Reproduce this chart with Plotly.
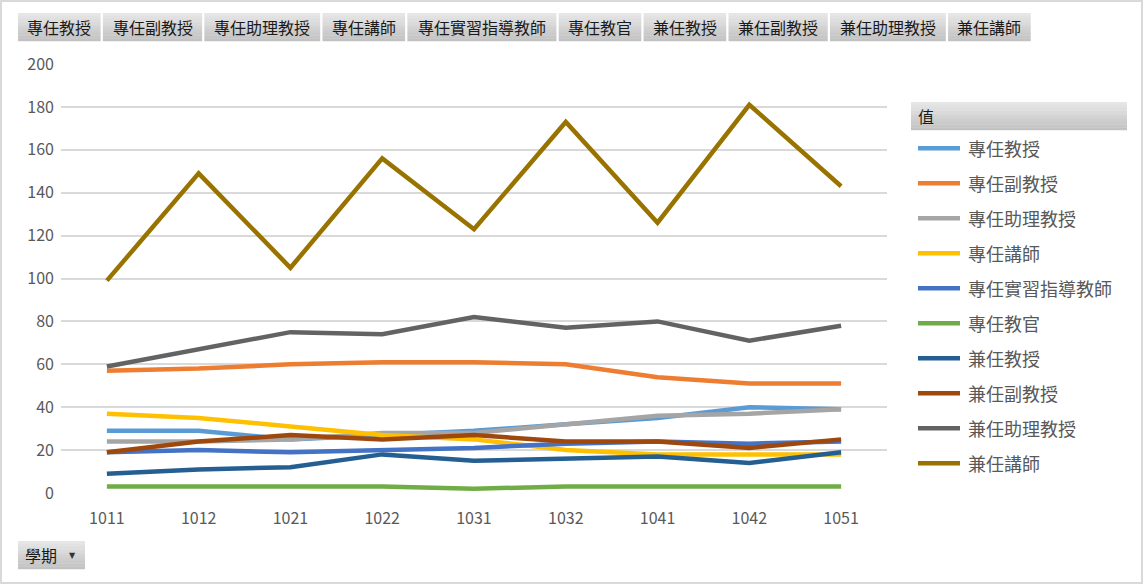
import plotly.graph_objects as go

# ---------------- data ----------------
semesters = ["1011", "1012", "1021", "1022", "1031", "1032", "1041", "1042", "1051"]

series_names = ["專任教授", "專任副教授", "專任助理教授", "專任講師", "專任實習指導教師",
                "專任教官", "兼任教授", "兼任副教授", "兼任助理教授", "兼任講師"]

ft_prof = [29, 29, 25, 27, 29, 32, 35, 40, 39]
ft_assoc = [57, 58, 60, 61, 61, 60, 54, 51, 51]
ft_asst = [24, 24, 25, 28, 28, 32, 36, 37, 39]
ft_lect = [37, 35, 31, 27, 25, 20, 18, 18, 18]
ft_intern = [19, 20, 19, 20, 21, 23, 24, 23, 24]
ft_officer = [3, 3, 3, 3, 2, 3, 3, 3, 3]
pt_prof = [9, 11, 12, 18, 15, 16, 17, 14, 19]
pt_assoc = [19, 24, 27, 25, 27, 24, 24, 21, 25]
pt_asst = [59, 67, 75, 74, 82, 77, 80, 71, 78]
pt_lect = [99, 149, 105, 156, 123, 173, 126, 181, 143]

series_values = [ft_prof, ft_assoc, ft_asst, ft_lect, ft_intern,
                 ft_officer, pt_prof, pt_assoc, pt_asst, pt_lect]

y_ticks = [0, 20, 40, 60, 80, 100, 120, 140, 160, 180, 200]

axis_field = "學期"
legend_field = "值"

# ---------------- style ----------------
colors = ["#5B9BD5", "#ED7D31", "#A5A5A5", "#FFC000", "#4472C4",
          "#70AD47", "#255E91", "#9E480E", "#636363", "#997300"]

W, H = 1143, 584
L, R, T, B = 61, 887, 64, 493   # plot area in pixels
CJK = "Noto Sans CJK TC"
TXT = "#595959"


def px2x(px):
    return (px - L) / (R - L)


def py2y(py):
    return (B - py) / (B - T)


fig = go.Figure()
for name, vals, col in zip(series_names, series_values, colors):
    fig.add_trace(go.Scatter(
        x=semesters, y=vals, name=name, mode="lines",
        line=dict(color=col, width=4.5),
        showlegend=False,
        hovertemplate="%{x}<br>" + name + ": %{y}<extra></extra>",
    ))

shapes = []
annotations = []


def gradient_button(x0, x1, y0, y1, n=10, top=(0xE6, 0xE6, 0xE6), bot=(0xC2, 0xC2, 0xC2)):
    h = (y1 - y0) / n
    for i in range(n):
        f = i / (n - 1)
        c = tuple(round(top[k] + (bot[k] - top[k]) * f) for k in range(3))
        shapes.append(dict(
            type="rect", xref="paper", yref="paper", layer="above",
            x0=px2x(x0), x1=px2x(x1), y0=py2y(y0 + i * h), y1=py2y(y0 + (i + 1) * h + 0.3),
            fillcolor="rgb(%d,%d,%d)" % c, line=dict(width=0),
        ))


# outer border
shapes.append(dict(type="rect", xref="paper", yref="paper", layer="above",
                   x0=px2x(1), x1=px2x(W - 1), y0=py2y(1), y1=py2y(H - 1),
                   line=dict(color="#D9D9D9", width=2), fillcolor="rgba(0,0,0,0)"))

# top field buttons (widths derived from label length)
bx = 18
for name in series_names:
    w = 16.6 * len(name) + 16.2
    gradient_button(bx, bx + w, 13, 41)
    annotations.append(dict(
        x=px2x(bx + w / 2), y=py2y(27), xref="paper", yref="paper",
        text=name, showarrow=False, xanchor="center", yanchor="middle",
        font=dict(family=CJK, size=16, color="#1a1a1a"),
    ))
    bx += w + 2.3

# legend header button
gradient_button(911, 1127, 102, 130)
annotations.append(dict(
    x=px2x(916), y=py2y(116), xref="paper", yref="paper",
    text=legend_field, showarrow=False, xanchor="left", yanchor="middle",
    font=dict(family=CJK, size=16, color="#1a1a1a"),
))

# custom legend entries
for i, (name, col) in enumerate(zip(series_names, colors)):
    yy = 148.3 + 35 * i
    shapes.append(dict(type="line", xref="paper", yref="paper", layer="above",
                       x0=px2x(918), x1=px2x(960), y0=py2y(yy), y1=py2y(yy),
                       line=dict(color=col, width=4.5)))
    annotations.append(dict(
        x=px2x(966), y=py2y(yy), xref="paper", yref="paper",
        text=name, showarrow=False, xanchor="left", yanchor="middle",
        font=dict(family=CJK, size=18, color=TXT),
    ))

# axis field button (bottom-left)
gradient_button(18, 85, 541, 569)
annotations.append(dict(
    x=px2x(23), y=py2y(555), xref="paper", yref="paper",
    text=axis_field, showarrow=False, xanchor="left", yanchor="middle",
    font=dict(family=CJK, size=16, color="#1a1a1a"),
))
annotations.append(dict(
    x=px2x(72), y=py2y(555), xref="paper", yref="paper",
    text="▼", showarrow=False, xanchor="center", yanchor="middle",
    font=dict(family="DejaVu Sans", size=8, color="#333333"),
))

fig.update_layout(
    width=W, height=H, autosize=False,
    margin=dict(l=L, r=W - R, t=T, b=H - B, pad=0),
    paper_bgcolor="white", plot_bgcolor="white",
    showlegend=False,
    shapes=shapes, annotations=annotations,
    font=dict(family=CJK, color=TXT),
    xaxis=dict(
        type="category", showgrid=False, zeroline=False, showline=False,
        ticks="", tickfont=dict(family=CJK, size=16, color=TXT),
        ticklabelstandoff=14, range=[-0.5, len(semesters) - 0.5],
    ),
    yaxis=dict(
        range=[0, 200], tickvals=y_ticks, showgrid=True,
        gridcolor="#D9D9D9", gridwidth=2, zeroline=False, showline=False,
        ticks="", tickfont=dict(family=CJK, size=16, color=TXT),
        ticklabelstandoff=6,
    ),
)

fig.write_html(
    "out.html",
    config={"displayModeBar": False},
    post_script="document.body.style.margin='0px';document.body.style.overflow='hidden';",
)
